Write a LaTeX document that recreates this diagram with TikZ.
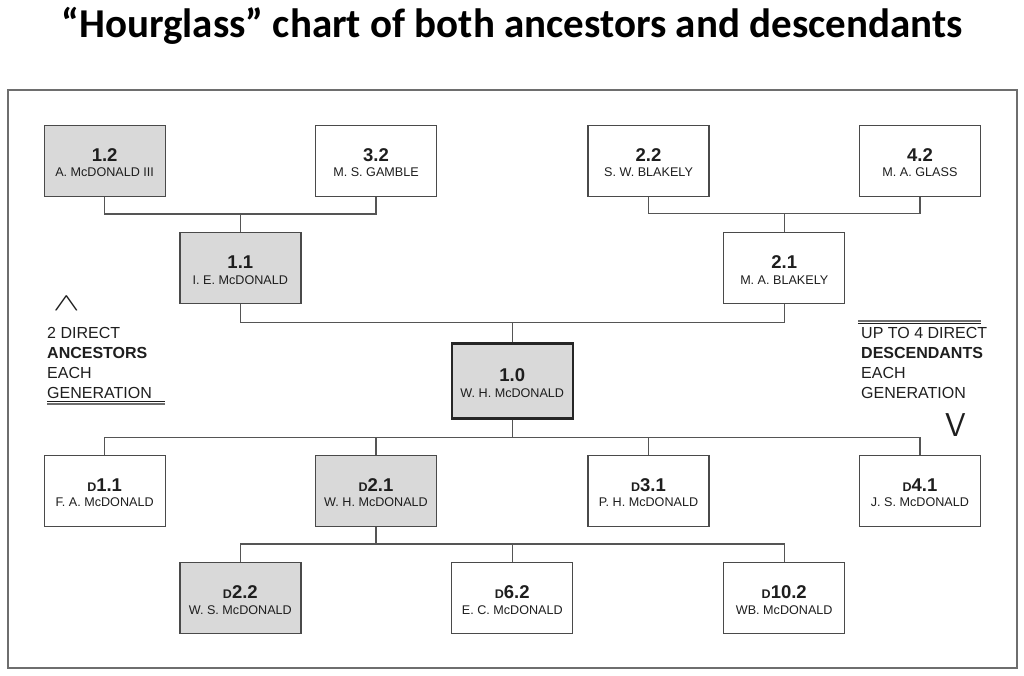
\documentclass[tikz,border=0pt]{standalone}
\usepackage{fontspec}
\setmainfont{Liberation Sans}
\newfontfamily\titlefont{Carlito}
\usetikzlibrary{matrix}

\definecolor{ink}{HTML}{1E1E1E}
\definecolor{boxline}{HTML}{4A4A4A}
\definecolor{rootline}{HTML}{262626}
\definecolor{linkgray}{HTML}{555555}
\definecolor{framegray}{HTML}{6E6E6E}
\definecolor{kinfill}{HTML}{D9D9D9}

\newcommand{\numfont}{\fontsize{18.5}{18.5}\bfseries\selectfont}
\newcommand{\namefont}{\fontsize{12.6}{14}\selectfont}
\newcommand{\dpre}{{\fontsize{12.5}{12.5}\bfseries\selectfont D}}
\newcommand{\kin}[2]{\vbox{\kern4pt\baselineskip=15.5pt\lineskiplimit=-20pt
  \halign{\hfil##\hfil\cr\numfont #1\cr\namefont #2\cr}}}

\tikzset{
  person/.style={draw=boxline, line width=1.3pt, fill=white, text=ink,
    minimum width=121pt, minimum height=71pt, inner sep=0pt},
  shaded/.style={fill=kinfill},
  root/.style={draw=rootline, line width=2.4pt, fill=kinfill, minimum height=75pt},
  link/.style={draw=linkgray, line width=1.3pt},
  note/.style={font=\fontsize{16}{20}\selectfont, align=left, text=ink, inner sep=0pt},
}

\begin{document}
\begin{tikzpicture}[x=1pt,y=-1pt]
  \useasboundingbox (0,0) rectangle (1024,675);
  \node[font=\titlefont\bfseries\fontsize{41}{41}\selectfont, anchor=base, text=black] (title) at (512,37)
    {“Hourglass” chart of both ancestors and descendants};
  \draw[draw=framegray, line width=1.5pt] (8,90) rectangle (1017,668);

  \matrix (m) [matrix of nodes, nodes={person}, inner sep=0pt, row sep=35pt, column sep=13.4pt, anchor=north west] at (43.3,124.3)
  {
    |[shaded]| \kin{1.2}{A. McDONALD III} & & \kin{3.2}{M. S. GAMBLE} & & \kin{2.2}{S. W. BLAKELY} & & \kin{4.2}{M. A. GLASS} \\
    & |[shaded]| \kin{1.1}{I. E. McDONALD} & & & & \kin{2.1}{M. A. BLAKELY} & \\[3pt]
    & & & |[root]| \kin{1.0}{W. H. McDONALD} & & & \\
    \kin{\dpre1.1}{F. A. McDONALD} & & |[shaded]| \kin{\dpre2.1}{W. H. McDONALD} & & \kin{\dpre3.1}{P. H. McDONALD} & & \kin{\dpre4.1}{J. S. McDONALD} \\
    & |[shaded]| \kin{\dpre2.2}{W. S. McDONALD} & & \kin{\dpre6.2}{E. C. McDONALD} & & \kin{\dpre10.2}{WB. McDONALD} & \\
  };

  % ancestors
  \draw[link] (m-1-1.south) |- ([yshift=18pt]m-2-2.north) -| (m-1-3.south);
  \draw[link] (m-2-2.north) -- ([yshift=18pt]m-2-2.north);
  \draw[link] (m-1-5.south) |- ([yshift=18pt]m-2-6.north) -| (m-1-7.south);
  \draw[link] (m-2-6.north) -- ([yshift=18pt]m-2-6.north);
  \draw[link] (m-2-2.south) |- ([yshift=20pt]m-3-4.north) -| (m-2-6.south);
  \draw[link] (m-3-4.north) -- ([yshift=20pt]m-3-4.north);
  % descendants
  \draw[link] (m-3-4.south) -- ([yshift=-18pt]m-3-4.south) coordinate (d1);
  \draw[link] (m-4-1.north) |- (d1) -| (m-4-7.north);
  \draw[link] (m-4-3.north) -- (m-4-3.north |- d1);
  \draw[link] (m-4-5.north) -- (m-4-5.north |- d1);
  \draw[link] (m-4-3.south) -- ([yshift=-17pt]m-4-3.south) coordinate (d2);
  \draw[link] (m-5-2.north) |- (d2) -| (m-5-6.north);
  \draw[link] (m-5-4.north) -- (m-5-4.north |- d2);

  % side notes
  \node[text=ink, inner sep=0pt, font=\fontsize{38}{38}\selectfont] (up) at (66.5,303.5) {\scalebox{1.6}[1]{$\wedge$}};
  \node[note, anchor=north west] (anc) at (47,327.5) {2 DIRECT\\ \textbf{ANCESTORS}\\ EACH\\ GENERATION};
  \draw[ink, line width=1pt] ([yshift=-2pt]anc.south west) -- ++(118,0);
  \draw[framegray, line width=2pt] ([yshift=-4.5pt]anc.south west) -- ++(118,0);

  \node[note, anchor=north west] (desc) at (861,327.5) {UP TO 4 DIRECT\\ \textbf{DESCENDANTS}\\ EACH\\ GENERATION};
  \draw[framegray, line width=2pt] (858,320.7) -- (981,320.7);
  \draw[ink, line width=1pt] (858,323.3) -- (981,323.3);
  \node[text=ink, inner sep=0pt, font=\sffamily\fontsize{33}{33}\selectfont] (down) at (956,425) {V};
\end{tikzpicture}
\end{document}
